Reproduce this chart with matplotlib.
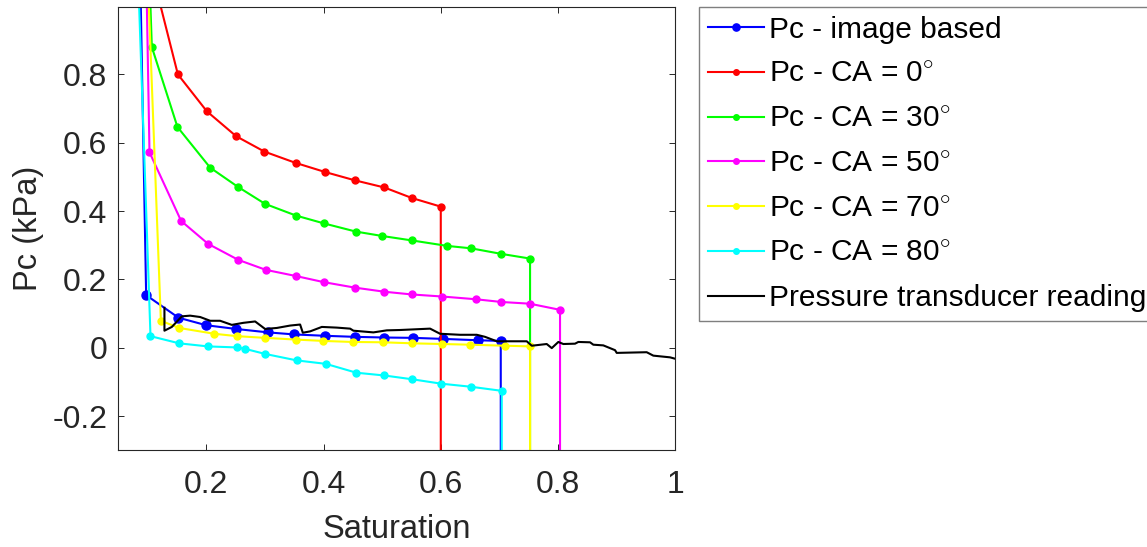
"""Capillary pressure vs. saturation: image-based Pc, contact-angle models and transducer reading."""

import matplotlib
matplotlib.use("Agg")
import matplotlib.pyplot as plt

# image based Pc (first point sits above the axes)
sat_img = [0.083, 0.0975, 0.1526, 0.1998, 0.251, 0.3055, 0.3504, 0.4032, 0.4534,
           0.5038, 0.5533, 0.6034, 0.6641, 0.7023, 0.7023]
pc_img = [1.5, 0.154, 0.088, 0.066, 0.055, 0.045, 0.039, 0.035, 0.032,
          0.030, 0.029, 0.026, 0.022, 0.020, -2.0]

sat_ca0 = [0.1, 0.1516, 0.201, 0.251, 0.2992, 0.3524, 0.4032, 0.4534, 0.5038,
           0.5511, 0.6, 0.6]
pc_ca0 = [1.15, 0.800, 0.692, 0.619, 0.574, 0.541, 0.514, 0.490, 0.469,
          0.438, 0.413, -2.0]

sat_ca30 = [0.095, 0.1072, 0.1509, 0.2067, 0.2539, 0.3004, 0.3528, 0.4005, 0.4551,
            0.5004, 0.5511, 0.6113, 0.6517, 0.7023, 0.7523, 0.7523]
pc_ca30 = [1.5, 0.880, 0.646, 0.527, 0.471, 0.421, 0.387, 0.364, 0.340,
           0.327, 0.314, 0.298, 0.291, 0.275, 0.261, -2.0]

sat_ca50 = [0.0935, 0.1032, 0.1572, 0.2032, 0.2549, 0.3016, 0.3528, 0.4005, 0.4534,
            0.5038, 0.5506, 0.6022, 0.6597, 0.7033, 0.7517, 0.8034, 0.8034]
pc_ca50 = [1.5, 0.572, 0.371, 0.304, 0.257, 0.228, 0.210, 0.192, 0.176,
           0.164, 0.156, 0.150, 0.142, 0.134, 0.129, 0.111, -2.0]

sat_ca70 = [0.091, 0.1226, 0.1538, 0.2135, 0.2522, 0.3004, 0.3528, 0.3998, 0.45,
            0.5021, 0.5516, 0.6022, 0.6505, 0.7096, 0.7523, 0.7523]
pc_ca70 = [1.5, 0.079, 0.058, 0.041, 0.034, 0.029, 0.024, 0.020, 0.017,
           0.016, 0.013, 0.011, 0.009, 0.006, 0.004, -2.0]

sat_ca80 = [0.0755, 0.1049, 0.1538, 0.2027, 0.2522, 0.2658, 0.3004, 0.3545, 0.4039,
            0.4561, 0.5033, 0.5506, 0.6005, 0.6511, 0.704, 0.704]
pc_ca80 = [1.5, 0.034, 0.013, 0.004, 0.001, -0.003, -0.018, -0.037, -0.047,
           -0.073, -0.081, -0.092, -0.105, -0.114, -0.126, -2.0]

# pressure transducer trace
sat_pt = [0.1287, 0.1287, 0.1413, 0.1584, 0.1725, 0.1896, 0.2067, 0.2237, 0.2436,
          0.2634, 0.2834, 0.3004, 0.3204, 0.3431, 0.3601, 0.3647, 0.3772, 0.3971,
          0.4227, 0.4454, 0.451, 0.4851, 0.5079, 0.5306, 0.5818, 0.5988, 0.6329,
          0.6614, 0.6755, 0.6955, 0.7466, 0.7552, 0.7807, 0.7893, 0.8005, 0.809,
          0.829, 0.8346, 0.8546, 0.8602, 0.8772, 0.8972, 0.9001, 0.9512, 0.9625,
          0.991, 0.9996]
pc_pt = [0.117, 0.050, 0.061, 0.092, 0.094, 0.090, 0.079, 0.079, 0.067,
         0.073, 0.077, 0.055, 0.058, 0.065, 0.068, 0.044, 0.048, 0.061,
         0.059, 0.056, 0.050, 0.045, 0.051, 0.052, 0.056, 0.041, 0.038,
         0.038, 0.032, 0.019, 0.019, 0.006, 0.011, -0.001, 0.017, 0.011,
         0.012, 0.017, 0.016, 0.009, 0.007, -0.007, -0.015, -0.013, -0.023,
         -0.028, -0.032]

labels = ["Pc - image based", r"Pc - CA = 0$^{\circ}$", r"Pc - CA = 30$^{\circ}$",
          r"Pc - CA = 50$^{\circ}$", r"Pc - CA = 70$^{\circ}$",
          r"Pc - CA = 80$^{\circ}$", "Pressure transducer reading"]
xticks = [0.2, 0.4, 0.6, 0.8, 1.0]
xticklabels = ["0.2", "0.4", "0.6", "0.8", "1"]
yticks = [-0.2, 0.0, 0.2, 0.4, 0.6, 0.8]
yticklabels = ["-0.2", "0", "0.2", "0.4", "0.6", "0.8"]


def main():
    plt.rcParams["font.family"] = ["Liberation Sans", "DejaVu Sans"]
    plt.rcParams["mathtext.fontset"] = "custom"
    plt.rcParams["mathtext.rm"] = "Liberation Sans"

    W, H = 1147, 547
    fig = plt.figure(figsize=(W / 100, H / 100), dpi=100)
    left, right, top, bottom = 118.3, 675.3, 6.7, 450.3
    ax = fig.add_axes([left / W, 1 - bottom / H, (right - left) / W, (bottom - top) / H])

    series = [
        (sat_img, pc_img, "#0000ff", 6.5),
        (sat_ca0, pc_ca0, "#ff0000", 5),
        (sat_ca30, pc_ca30, "#00ff00", 5),
        (sat_ca50, pc_ca50, "#ff00ff", 5),
        (sat_ca70, pc_ca70, "#ffff00", 5),
        (sat_ca80, pc_ca80, "#00ffff", 5),
    ]
    for (x, y, c, ms), lab in zip(series, labels):
        ax.plot(x, y, "-o", color=c, lw=1.5, ms=ms, mec=c, label=lab)
    ax.plot(sat_pt, pc_pt, "-", color="#000000", lw=1.5, label=labels[-1])

    ax.set_xlim(0.05, 1.0)
    ax.set_ylim(-0.3, 0.998)
    ax.set_xticks(xticks, xticklabels)
    ax.set_yticks(yticks, yticklabels)
    ax.tick_params(direction="in", top=True, right=True, length=4, width=0.7,
                   labelsize=23, colors="#262626")
    ax.tick_params(axis="x", pad=14)
    ax.tick_params(axis="y", pad=8)
    for sp in ax.spines.values():
        sp.set_color("#262626")
        sp.set_linewidth(0.8)

    ax.set_xlabel("Saturation", fontsize=23.5, color="#262626")
    ax.set_ylabel("Pc (kPa)", fontsize=23.5, color="#262626")
    ax.xaxis.set_label_coords(0.5, -0.143)
    ax.yaxis.set_label_coords(-0.133, 0.5)

    leg = ax.legend(loc="upper left", bbox_to_anchor=(699.3 / W, 1 - 6.7 / H),
                    bbox_transform=fig.transFigure, borderaxespad=0, fontsize=21.5,
                    frameon=True, fancybox=False, framealpha=1, edgecolor="#7f7f7f",
                    handlelength=1.85, handletextpad=0.2, borderpad=0.3,
                    labelspacing=0.56, markerscale=0.8)
    leg.get_frame().set_linewidth(1.0)
    for t in leg.get_texts():
        t.set_color("#000000")

    fig.savefig("out.png", dpi=100)
    return 0


if __name__ == "__main__":
    raise SystemExit(main())
